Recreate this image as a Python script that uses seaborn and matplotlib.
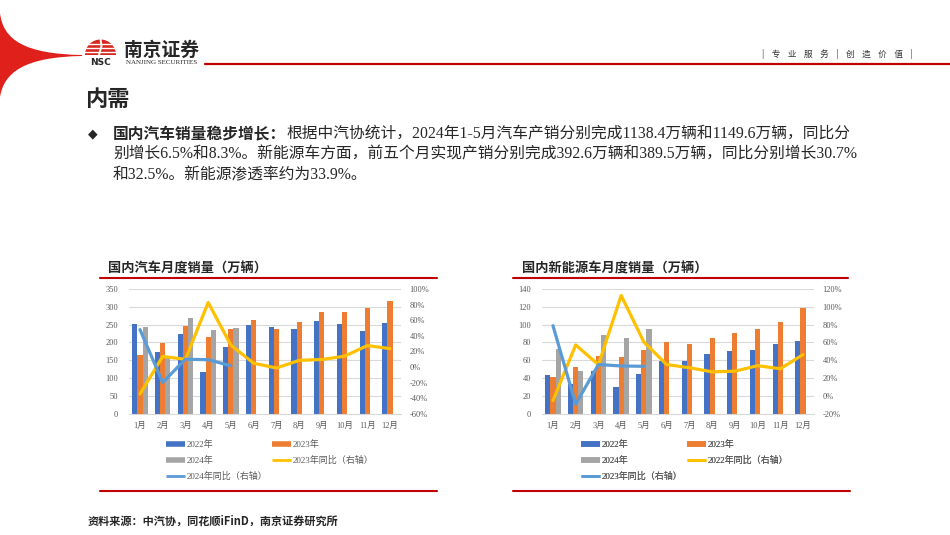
import numpy as np
import pandas as pd
import matplotlib
matplotlib.use('Agg')
import matplotlib.pyplot as plt
from matplotlib.path import Path
from matplotlib.patches import PathPatch, Wedge
from matplotlib.lines import Line2D
from matplotlib.ticker import FuncFormatter, MultipleLocator
import seaborn as sns

# === 数据 ===
months = [f'{i}月' for i in range(1, 13)]

# 国内汽车月度销量（万辆）
car_2022 = [253.1, 173.7, 223.4, 118.1, 186.2, 250.2, 242.0, 238.3, 261.0, 250.5, 232.9, 255.6]
car_2023 = [164.9, 197.6, 245.1, 215.9, 238.2, 262.2, 238.7, 258.2, 285.8, 285.3, 297.0, 315.6]
car_2024 = [243.9, 158.4, 269.4, 235.9, 241.7]
car_yoy_2023 = [-34.8, 13.5, 9.7, 82.7, 27.9, 4.8, -1.4, 8.4, 9.5, 13.8, 27.4, 23.5]
car_yoy_2024 = [47.9, -19.9, 9.9, 9.3, 1.5]

# 国内新能源车月度销量（万辆）
nev_2022 = [43.1, 33.4, 48.4, 29.9, 44.7, 59.6, 59.3, 66.6, 70.8, 71.4, 78.6, 81.4]
nev_2023 = [40.8, 52.5, 65.3, 63.6, 71.7, 80.6, 78.0, 84.6, 90.4, 95.6, 102.6, 119.1]
nev_2024 = [72.9, 47.7, 88.3, 85.0, 95.5]
nev_yoy_a = [-5.3, 57.2, 34.9, 112.7, 60.4, 35.2, 31.6, 27.0, 27.7, 33.9, 30.5, 46.3]
nev_yoy_b = [78.8, -9.2, 35.2, 33.6, 33.2]

years = ['2022年', '2023年', '2024年']
slogan = ['|', '专', '业', '服', '务', '|', '创', '造', '价', '值', '|']

bar_colors = ['#4472C4', '#ED7D31', '#A5A5A5']
yellow = '#FFC000'
lightblue = '#5B9BD5'
red = '#C00000'
tick_color = '#595959'

# === 样式 ===
sns.set_style('white')
plt.rcParams['font.family'] = ['Liberation Serif', 'Noto Sans CJK SC']
plt.rcParams['axes.unicode_minus'] = False
CJK = ['Noto Sans CJK SC', 'DejaVu Sans']
MIX = ['Liberation Serif', 'Noto Sans CJK SC']

fig = plt.figure(figsize=(9.5, 5.35), dpi=100)
bg = fig.add_axes([0, 0, 1, 1], zorder=0)
bg.set_xlim(0, 950)
bg.set_ylim(535, 0)
bg.axis('off')

# === 页眉 ===
swoosh = Path([(0, 13), (3, 40), (25, 54), (82, 55),
               (82, 56), (25, 57), (4, 72), (0, 97), (0, 13)],
              [Path.MOVETO, Path.CURVE4, Path.CURVE4, Path.CURVE4,
               Path.LINETO, Path.CURVE4, Path.CURVE4, Path.CURVE4, Path.CLOSEPOLY])
bg.add_patch(PathPatch(swoosh, facecolor='#E0201B', edgecolor='none'))
bg.add_patch(Wedge((100.5, 55), 15.5, 180, 360, facecolor='#D7261E', edgecolor='none'))
for yy in [44, 48, 52]:
    bg.plot([84, 117], [yy, yy], color='white', lw=1.0)
bg.plot([99, 101.5, 100.5], [55, 46, 39], color='white', lw=1.4)
bg.text(100.5, 62.5, 'NSC', fontsize=6.5, fontweight='bold', family='DejaVu Sans', ha='center', va='center')
bg.text(124, 50, '南京证券', fontsize=13.5, fontweight='bold', family=CJK, ha='left', va='center')
bg.text(126, 63, 'NANJING SECURITIES', fontsize=5, family='Liberation Serif', ha='left', va='center')
bg.plot([205, 950], [63.5, 63.5], color=red, lw=1.6)
bg.text(762, 54, '    '.join(slogan), fontsize=6.2, color='#333333',
        family=CJK, ha='left', va='center')

# === 正文 ===
bg.text(85, 99, '内需', fontsize=16, fontweight='bold', family=CJK, ha='left', va='center')
bg.text(93, 134, '◆', fontsize=9, family='DejaVu Sans', ha='center', va='center')
t1 = bg.text(113, 134, '国内汽车销量稳步增长：', fontsize=11.3, fontweight='bold', family=CJK,
             ha='left', va='center')
bg.annotate('根据中汽协统计，2024年1-5月汽车产销分别完成1138.4万辆和1149.6万辆，同比分',
            xy=(1, 0.5), xycoords=t1, ha='left', va='center', fontsize=11.3, family=MIX)
bg.text(113, 155, '别增长6.5%和8.3%。新能源车方面，前五个月实现产销分别完成392.6万辆和389.5万辆，同比分别增长30.7%',
        fontsize=11.3, family=MIX, ha='left', va='center')
bg.text(113, 175, '和32.5%。新能源渗透率约为33.9%。', fontsize=11.3, family=MIX, ha='left', va='center')

bg.text(88, 521, '资料来源：中汽协，同花顺iFinD，南京证券研究所', fontsize=8, fontweight='bold',
        family=CJK, ha='left', va='center')


def draw_panel(left_px, title, title_x, frame, bars, lines, line_labels, ymax, ystep, pmin, pmax, pstep, leg_x):
    # 标题与红线
    bg.text(title_x, 268, title, fontsize=9.5, fontweight='bold', family=CJK, ha='left', va='center')
    for yy in frame:
        bg.plot([frame[yy][0], frame[yy][1]], [yy, yy], color=red, lw=1.5)

    ax = fig.add_axes([left_px / 950, (535 - 413.7) / 535, 272.8 / 950, 124.7 / 535], zorder=2)
    ax.patch.set_alpha(0)

    rows = []
    for yr, vals in zip(years, bars):
        for m, v in zip(months, vals):
            rows.append({'月': m, '年份': yr, '销量': v})
    df = pd.DataFrame(rows)
    sns.barplot(data=df, x='月', y='销量', hue='年份', order=months, hue_order=years,
                palette=bar_colors, width=0.68, saturation=1, legend=False, ax=ax,
                linewidth=0, edgecolor='none', zorder=2)
    ax.set_ylim(0, ymax)
    ax.yaxis.set_major_locator(MultipleLocator(ystep))
    ax.grid(axis='y', color='#D9D9D9', lw=0.8, zorder=0)
    ax.set_axisbelow(True)
    ax.set_xlabel('')
    ax.set_ylabel('')
    for s in ['top', 'left', 'right']:
        ax.spines[s].set_visible(False)
    ax.spines['bottom'].set_color('#D9D9D9')
    ax.tick_params(axis='both', length=0, labelsize=6, labelcolor=tick_color)
    ax.tick_params(axis='x', pad=6)
    ax.tick_params(axis='y', pad=7.5)

    ax2 = ax.twinx()
    for vals, col in zip(lines, [yellow, lightblue]):
        sns.lineplot(x=np.arange(len(vals)), y=vals, color=col, lw=2.3, ax=ax2, sort=False)
    ax2.set_ylim(pmin, pmax)
    ax2.yaxis.set_major_locator(MultipleLocator(pstep))
    ax2.yaxis.set_major_formatter(FuncFormatter(lambda v, p: f'{v:.0f}%'))
    ax2.tick_params(axis='y', length=0, labelsize=6, labelcolor=tick_color, pad=6)
    for s in ax2.spines.values():
        s.set_visible(False)
    ax.set_xlim(-0.5, 11.5)

    # 图例（按行排列：第一列 2022/2024/线B，第二列 2023/线A）
    hb = [Line2D([], [], color=c, lw=4, solid_capstyle='butt') for c in bar_colors]
    hl = [Line2D([], [], color=c, lw=2, solid_capstyle='butt') for c in [yellow, lightblue]]
    handles = [hb[0], hb[2], hl[1], hb[1], hl[0]]
    labels = [years[0], years[2], line_labels[1], years[1], line_labels[0]]
    leg = bg.legend(handles, labels, loc='upper left', bbox_to_anchor=(leg_x, 440),
                    bbox_transform=bg.transData, ncol=2, frameon=False,
                    handlelength=2.1, handletextpad=0.2, columnspacing=0.5,
                    labelspacing=0.78, borderpad=0, borderaxespad=0,
                    prop={'family': MIX, 'size': 6.5}, labelcolor=tick_color)
    bg.add_artist(leg)
    return ax, ax2


draw_panel(128.6, '国内汽车月度销量（万辆）', 108, {278: (100, 437), 491: (100, 437)},
           [car_2022, car_2023, car_2024], [car_yoy_2023, car_yoy_2024],
           ['2023年同比（右轴）', '2024年同比（右轴）'], 350, 50, -60, 100, 20, 166)

draw_panel(541.6, '国内新能源车月度销量（万辆）', 522, {278: (513, 848), 491: (513, 850)},
           [nev_2022, nev_2023, nev_2024], [nev_yoy_a, nev_yoy_b],
           ['2022年同比（右轴）', '2023年同比（右轴）'], 140, 20, -20, 120, 20, 581)

fig.savefig('out.png', dpi=100)
